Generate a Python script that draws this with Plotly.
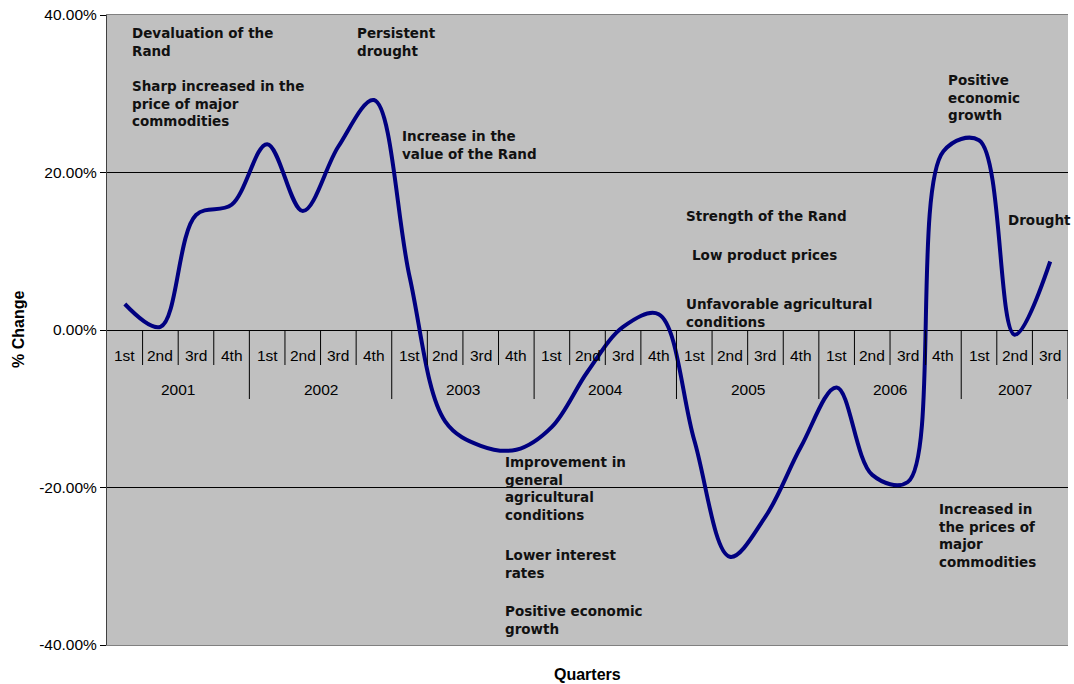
import plotly.graph_objects as go

# Quarterly % change, 2001 Q1 - 2007 Q3
years = ["2001", "2002", "2003", "2004", "2005", "2006", "2007"]
quarter_names = ["1st", "2nd", "3rd", "4th"]
quarters = [q for y in years for q in quarter_names][:27]
pct_change = [3.3, 0.4, 14.6, 15.9, 23.6, 15.1, 23.3, 29.2, 6.8, -11.6,
              -14.7, -15.2, -12.3, -5.3, 0.4, 2.0, -14.0, -28.8, -23.7, -14.8,
              -7.3, -18.4, -19.3, 22.7, 24.1, -0.6, 8.7]
y_ticks = [40, 20, 0, -20, -40]

# event notes: (text, left px, top px)
notes = [
    ("Devaluation of the<br>Rand", 132, 27),
    ("Sharp increased in the<br>price of major<br>commodities", 132, 80),
    ("Persistent<br>drought", 357, 27),
    ("Increase in the<br>value of the Rand", 402, 130),
    ("Strength of the Rand", 686, 210),
    ("Low product prices", 692, 249),
    ("Unfavorable agricultural<br>conditions", 686, 298),
    ("Positive<br>economic<br>growth", 948, 74),
    ("Drought", 1008, 214),
    ("Improvement in<br>general<br>agricultural<br>conditions", 505, 456),
    ("Lower interest<br>rates", 505, 549),
    ("Positive economic<br>growth", 505, 605),
    ("Increased in<br>the prices of<br>major<br>commodities", 939, 503),
]

W, H = 1074, 684
L, R, T, B = 107, 6, 15, 39
PW, PH = W - L - R, H - T - B


def px_x(px):
    return (px - L) / PW


def px_y(py):
    return (H - B - py) / PH


idx = list(range(len(quarters)))

fig = go.Figure()
fig.add_trace(go.Scatter(
    x=idx, y=pct_change, mode="lines",
    line=dict(color="#000080", width=4, shape="spline", smoothing=1.0),
    hoverinfo="skip", showlegend=False,
))

annotations = []
shapes = []

# quarter labels and separators sitting on the zero line
for i, q in enumerate(quarters):
    annotations.append(dict(
        x=i, y=0, xref="x", yref="y", text=q, showarrow=False,
        xanchor="center", yanchor="middle", yshift=-25,
        font=dict(family="Liberation Sans, Arial", size=15.5, color="black"),
    ))
for b in range(1, len(quarters) + 1):
    year_edge = (b % 4 == 0) or b == len(quarters)
    shapes.append(dict(
        type="line", xref="x", yref="y", x0=b - 0.5, x1=b - 0.5,
        ysizemode="pixel", yanchor=0, y0=0, y1=-69 if year_edge else -35,
        line=dict(color="black", width=1),
    ))

# year labels centred under their quarters
for k, yr in enumerate(years):
    members = [i for i in idx if i // 4 == k]
    annotations.append(dict(
        x=(members[0] + members[-1]) / 2, y=0, xref="x", yref="y", text=yr,
        showarrow=False, xanchor="center", yanchor="middle", yshift=-59,
        font=dict(family="Liberation Sans, Arial", size=15.5, color="black"),
    ))

for text, lx, ty in notes:
    annotations.append(dict(
        x=px_x(lx - 2), y=px_y(ty - 4), xref="paper", yref="paper",
        text=text, showarrow=False, xanchor="left", yanchor="top", align="left",
        font=dict(family="DejaVu Sans", size=13.5, color="#111111", weight="bold"),
    ))

# axis titles
annotations.append(dict(
    x=px_x(18), y=0.5, xref="paper", yref="paper", text="<b>% Change</b>",
    textangle=-90, showarrow=False, xanchor="center", yanchor="middle",
    font=dict(family="Liberation Sans, Arial", size=16, color="black"),
))
annotations.append(dict(
    x=0.5, y=px_y(674), xref="paper", yref="paper", text="<b>Quarters</b>",
    showarrow=False, xanchor="center", yanchor="middle",
    font=dict(family="Liberation Sans, Arial", size=16, color="black"),
))

fig.update_layout(
    width=W, height=H,
    margin=dict(l=L, r=R, t=T, b=B, pad=0),
    paper_bgcolor="white", plot_bgcolor="#C0C0C0",
    annotations=annotations, shapes=shapes,
    xaxis=dict(range=[-0.5, len(quarters) - 0.5], showticklabels=False,
               showgrid=False, zeroline=False, ticks="",
               showline=True, mirror=True, linecolor="#808080", linewidth=1),
    yaxis=dict(range=[-40, 40], tickvals=y_ticks,
               ticktext=[f"{v:.2f}%" for v in y_ticks],
               ticks="outside", ticklen=6, tickcolor="black",
               showgrid=True, gridcolor="black", gridwidth=1,
               zeroline=True, zerolinecolor="black", zerolinewidth=1,
               showline=True, linecolor="#404040", linewidth=1,
               tickfont=dict(family="Liberation Sans, Arial", size=15.5, color="black")),
)

fig.write_html("out.html")
